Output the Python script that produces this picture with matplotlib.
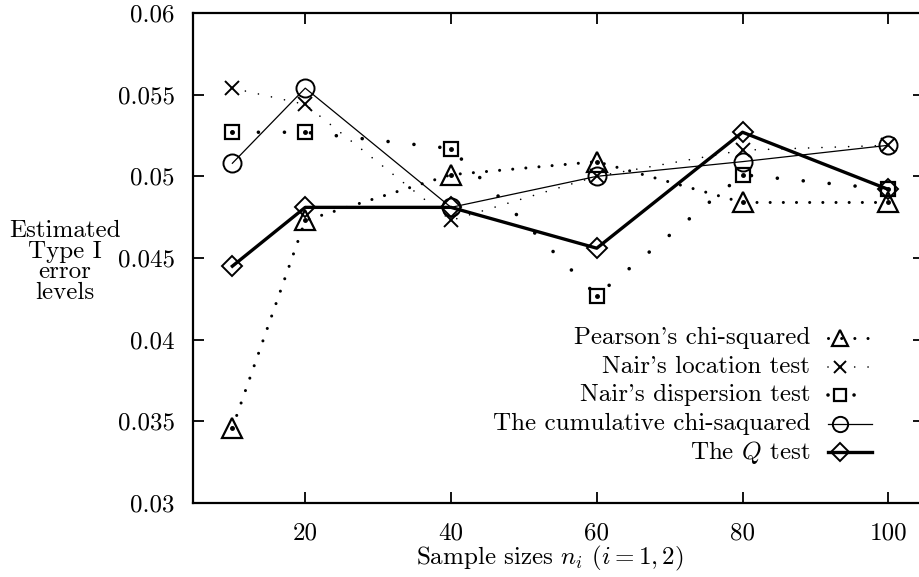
import matplotlib
matplotlib.use("Agg")
import matplotlib.pyplot as plt

plt.rcParams['font.family'] = ['cmr10', 'DejaVu Serif']
plt.rcParams['mathtext.fontset'] = 'cm'
plt.rcParams['axes.unicode_minus'] = False

# sample sizes
sizes = [10, 20, 40, 60, 80, 100]

# estimated type I error levels
pearson = [0.0346, 0.0473, 0.0501, 0.0509, 0.0484, 0.0484]
nair_loc = [0.0554, 0.0544, 0.0473, 0.0500, 0.0516, 0.0519]
nair_disp = [0.0527, 0.0527, 0.0517, 0.0427, 0.0501, 0.0492]
cumulative = [0.0508, 0.0554, 0.0481, 0.0500, 0.0509, 0.0519]
q_test = [0.0445, 0.0481, 0.0481, 0.0456, 0.0527, 0.0492]

labels = ["Pearson's chi-squared", "Nair's location test", "Nair's dispersion test",
          "The cumulative chi-saquared", r"The $Q$ test"]

xticks = [20, 40, 60, 80, 100]
yticks = [0.03, 0.035, 0.04, 0.045, 0.05, 0.055, 0.06]
ytick_labels = ['0.03', '0.035', '0.04', '0.045', '0.05', '0.055', '0.06']

W, H = 919, 577
fig = plt.figure(figsize=(W / 100, H / 100), dpi=100)
ax = fig.add_axes([193 / W, 1 - 503 / H, (924 - 193) / W, (503 - 13) / H])

# line / marker styles (gnuplot-ish)
styles = [
    dict(color='k', lw=2.2, ls=(0, (0.01, 4.3)), dash_capstyle='round',
         marker='^', ms=14, mfc='none', mew=1.6),
    dict(color='k', lw=1.2, ls=(0, (0.01, 8.0)), dash_capstyle='round',
         marker='x', ms=10, mew=1.4),
    dict(color='k', lw=2.6, ls=(0, (0.01, 7.2)), dash_capstyle='round',
         marker='s', ms=10, mfc='none', mew=1.6),
    dict(color='k', lw=0.9, ls='-', marker='o', ms=13, mfc='none', mew=1.4),
    dict(color='k', lw=2.4, ls='-', marker='D', ms=10.5, mfc='none', mew=1.4),
]
series = [pearson, nair_loc, nair_disp, cumulative, q_test]

for vals, st in zip(series, styles):
    ax.plot(sizes, vals, **st)
# centre dots of the triangle and square points
ax.plot(sizes, pearson, ls='none', marker='o', ms=2.5, color='k')
ax.plot(sizes, nair_disp, ls='none', marker='o', ms=2.5, color='k')

ax.set_xlim(4.6, 104.9)
ax.set_ylim(0.03, 0.06)
ax.set_xticks(xticks)
ax.set_xticklabels([str(t) for t in xticks])
ax.set_yticks(yticks)
ax.set_yticklabels(ytick_labels)
ax.tick_params(direction='in', length=8, width=1.3, labelsize=18,
               top=True, right=True)
ax.tick_params(axis='y', pad=13)
ax.tick_params(axis='x', pad=14)
for sp in ax.spines.values():
    sp.set_linewidth(1.6)

fig.text(65 / W, 1 - 262 / H, "Estimated\nType I\nerror\nlevels", ha='center',
         va='center', fontsize=18, linespacing=0.92)
fig.text(550 / W, 1 - 558 / H, r"Sample sizes $n_i$ $(i=1,2)$", ha='center',
         va='center', fontsize=18)

# hand-drawn key, gnuplot style: text, then marker with a short line sample
key_rows = [338, 367, 395, 424, 452]
key_ms = [12, 9, 9, 11, 9.5]
for lab, st, py, ms in zip(labels, styles, key_rows, key_ms):
    fy = 1 - py / H
    fig.text(810 / W, fy, lab, ha='right', va='center', fontsize=18)
    line_st = {k: v for k, v in st.items() if k not in ('marker', 'ms', 'mfc', 'mew')}
    ax.plot([828 / W, 872 / W], [fy, fy], transform=fig.transFigure,
            clip_on=False, **line_st)
    ax.plot([840 / W], [fy], transform=fig.transFigure, clip_on=False,
            ls='none', color='k', marker=st['marker'], ms=ms,
            mfc=st.get('mfc', 'k'), mew=st['mew'])

fig.savefig('out.png', dpi=100)
